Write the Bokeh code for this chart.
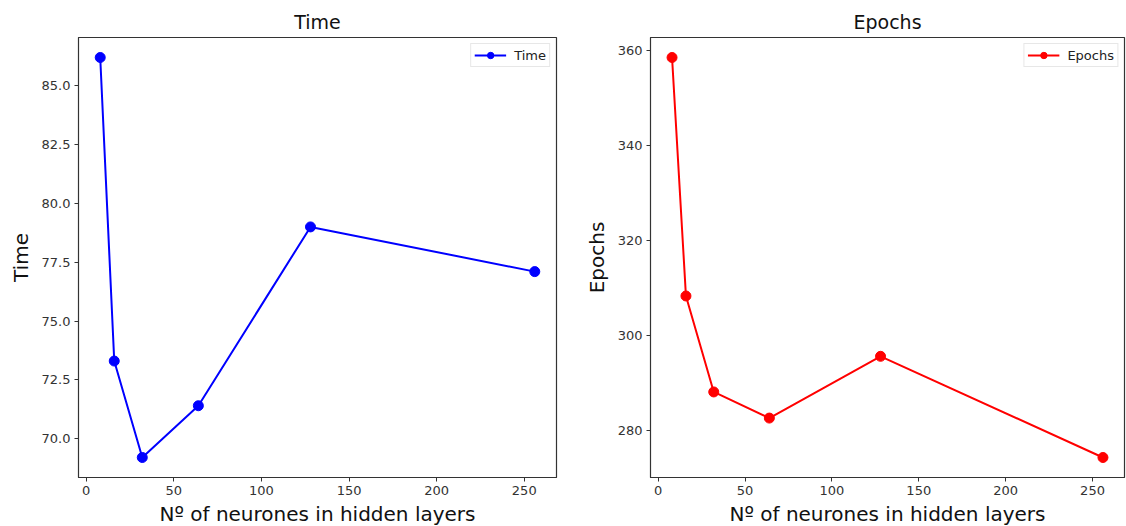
from bokeh.plotting import figure
from bokeh.layouts import row
from bokeh.models import FixedTicker, NumeralTickFormatter, Range1d
from bokeh.embed import file_html
from bokeh.resources import INLINE

neurons = [8, 16, 32, 64, 128, 256]
time_vals = [86.2, 73.3, 69.2, 71.4, 79.0, 77.1]
epoch_vals = [358.5, 308.3, 288.1, 282.6, 295.6, 274.3]
x_ticks = [0, 50, 100, 150, 200, 250]
time_ticks = [70.0, 72.5, 75.0, 77.5, 80.0, 82.5, 85.0]
epoch_ticks = [280, 300, 320, 340, 360]

FONT = "DejaVu Sans"


def pad_range(vals, frac=0.05):
    lo, hi = min(vals), max(vals)
    m = (hi - lo) * frac
    return Range1d(lo - m, hi + m)


def make_panel(name, yvals, color, yticks, yfmt, fw, bl, br):
    p = figure(frame_width=fw, frame_height=440, output_backend="svg",
               toolbar_location=None, title=name,
               x_range=pad_range(neurons), y_range=pad_range(yvals),
               min_border_left=bl, min_border_right=br,
               min_border_top=37, min_border_bottom=49)
    p.line(neurons, yvals, line_color=color, line_width=2, legend_label=name)
    p.scatter(neurons, yvals, marker="circle", size=10, fill_color=color,
              line_color=color, legend_label=name)
    p.title.text_font = FONT
    p.title.text_font_size = "19px"
    p.title.text_font_style = "normal"
    p.title.align = "center"
    p.title.text_color = "#111111"
    p.title.standoff = 10
    p.xaxis.axis_label = "Nº of neurones in hidden layers"
    p.yaxis.axis_label = name
    for ax in (p.xaxis[0], p.yaxis[0]):
        ax.axis_label_text_font = FONT
        ax.axis_label_text_font_size = "20px"
        ax.axis_label_text_font_style = "normal"
        ax.axis_label_text_color = "#111111"
        ax.major_label_text_font = FONT
        ax.major_label_text_font_size = "13px"
        ax.major_label_text_color = "#333333"
        ax.minor_tick_line_color = None
        ax.major_tick_out = 4
        ax.major_tick_in = 0
        ax.axis_line_color = "#333333"
        ax.major_tick_line_color = "#333333"
        ax.axis_label_standoff = 4
        ax.major_label_standoff = 4
    p.yaxis.axis_label_standoff = 6
    p.xaxis.ticker = FixedTicker(ticks=x_ticks)
    p.yaxis.ticker = FixedTicker(ticks=yticks)
    p.yaxis.formatter = NumeralTickFormatter(format=yfmt)
    p.xgrid.grid_line_color = None
    p.ygrid.grid_line_color = None
    p.outline_line_color = "#333333"
    p.outline_line_width = 1.2
    p.legend.location = "top_right"
    p.legend.label_text_font = FONT
    p.legend.label_text_font_size = "13px"
    p.legend.label_text_color = "#222222"
    p.legend.border_line_color = "#d0d0d0"
    p.legend.glyph_width = 32
    p.legend.glyph_height = 16
    p.legend.padding = 3
    p.legend.spacing = 0
    p.legend.margin = 6
    p.legend.label_standoff = 8
    p.legend.label_height = 16
    return p


p1 = make_panel("Time", time_vals, "#0000ff", time_ticks, "0.0", 478, 78, 16)
p2 = make_panel("Epochs", epoch_vals, "#ff0000", epoch_ticks, "0", 474, 78, 2)

layout = row(p1, p2)
open("out.html", "w").write(file_html(layout, INLINE))
